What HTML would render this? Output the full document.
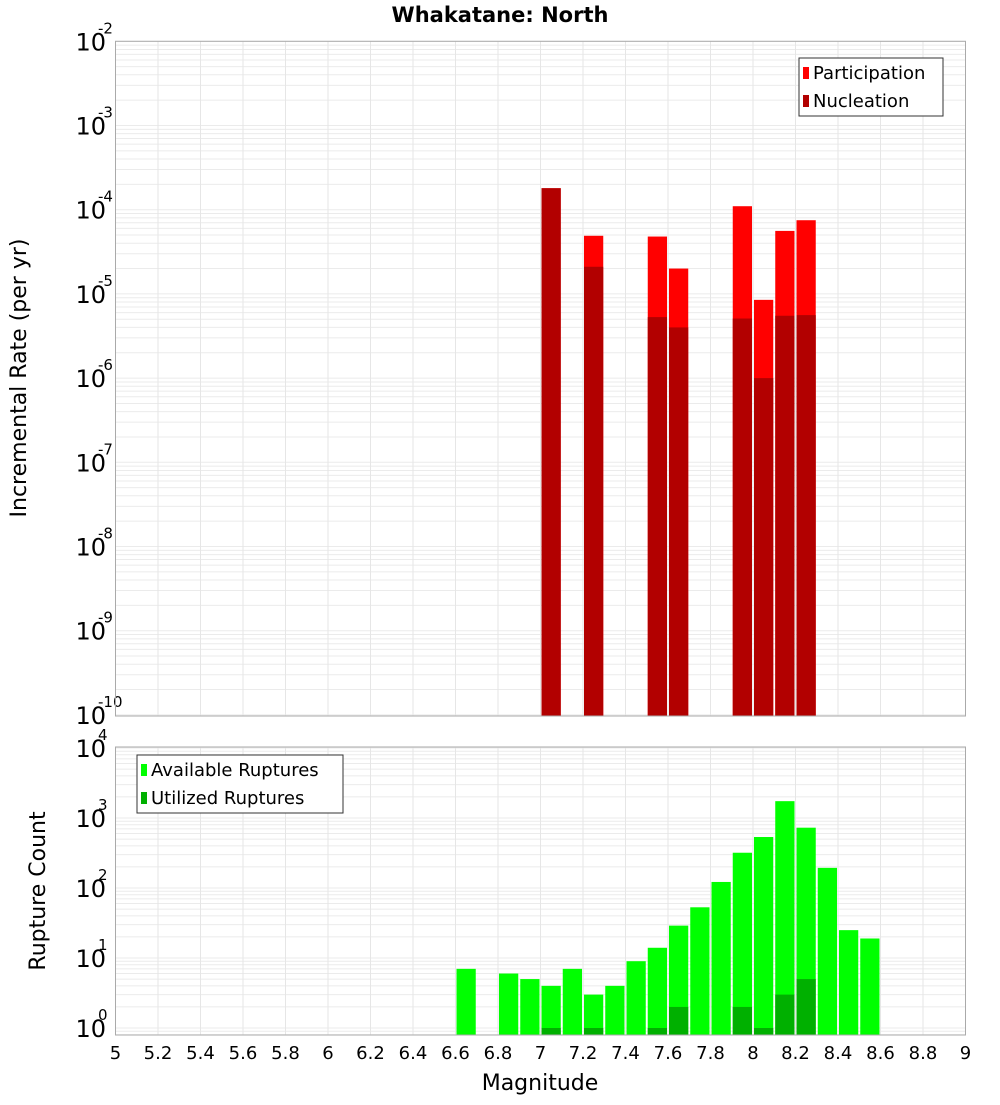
<!DOCTYPE html>
<html><head><meta charset="utf-8"><style>
body{margin:0;background:#fff;font-family:"Liberation Sans","DejaVu Sans",sans-serif}
svg text{font-family:"DejaVu Sans","Liberation Sans",sans-serif}
</style></head><body>
<svg id="c" width="1000" height="1100" xmlns="http://www.w3.org/2000/svg">
<text x="500" y="22" text-anchor="middle" font-size="21" font-weight="bold">Whakatane: North</text>
<text transform="translate(26,378) rotate(-90)" text-anchor="middle" font-size="22">Incremental Rate (per yr)</text>
<text transform="translate(45,891) rotate(-90)" text-anchor="middle" font-size="22">Rupture Count</text>
<text x="540" y="1090" text-anchor="middle" font-size="22">Magnitude</text>
<g id="top"></g><g id="bot"></g>
</svg>
<script>
const rateMags=[7.0,7.2,7.5,7.6,7.9,8.0,8.1,8.2];
const participation=[1.8e-4,4.9e-5,4.8e-5,2.0e-5,1.1e-4,8.5e-6,5.6e-5,7.5e-5];
const nucleation=[1.8e-4,2.1e-5,5.3e-6,4.0e-6,5.1e-6,1.0e-6,5.5e-6,5.6e-6];
const countMags=[6.6,6.8,6.9,7.0,7.1,7.2,7.3,7.4,7.5,7.6,7.7,7.8,7.9,8.0,8.1,8.2,8.3,8.4,8.5];
const available=[7,6,5,4,7,3,4,9,14,29,53,122,319,535,1740,727,194,25,19];
const utilMags=[7.0,7.2,7.5,7.6,7.9,8.0,8.1,8.2];
const utilized=[1,1,1,2,2,1,3,5];
const xTicks=[5,5.2,5.4,5.6,5.8,6,6.2,6.4,6.6,6.8,7,7.2,7.4,7.6,7.8,8,8.2,8.4,8.6,8.8,9];
const topExps=[-2,-3,-4,-5,-6,-7,-8,-9,-10];
const botExps=[0,1,2,3,4];

const NS="http://www.w3.org/2000/svg";
const X0=115.5,X1=965.5;
const x=m=>X0+(m-5)/4*(X1-X0);
const yTop=v=>41.3+(-2-Math.log10(v))*84.2;
const yBot=v=>1028-70*Math.log10(v);
function mk(p,tag,at){const e=document.createElementNS(NS,tag);for(const k in at)e.setAttribute(k,at[k]);p.appendChild(e);return e;}

function panel(g,top,bottom,yf,exps,name){
  const bg=mk(g,'rect',{x:X0,y:top,width:X1-X0,height:bottom-top,fill:'#fff'});
  
  
  const lo=Math.min(...exps),hi=Math.max(...exps);
  for(let e=lo-1;e<=hi;e++)for(let k=1;k<10;k++){
    const yy=yf(k*Math.pow(10,e)); if(yy<top||yy>bottom)continue;
    const l=mk(g,'line',{x1:X0,x2:X1,y1:yy,y2:yy,stroke:'#ebebeb','stroke-width':1});
    
    
  }
  xTicks.forEach(t=>{const l=mk(g,'line',{x1:x(t),x2:x(t),y1:top,y2:bottom,stroke:'#e6e6e6','stroke-width':1});
    
    });
  exps.forEach(e=>{const yy=yf(Math.pow(10,e));
    const t=mk(g,'text',{x:106,y:yy+9,'text-anchor':'end','font-size':24});
    
    
    t.textContent='10';
    const s=mk(g,'text',{x:98,y:yy-8,'font-size':15});
    
    
    s.textContent=String(e);});
}
function frame(g,top,bottom,name){const r=mk(g,'rect',{x:X0,y:top,width:X1-X0,height:bottom-top,fill:'none',stroke:'#aaa','stroke-width':1});
  
  }
function bar(g,m,v,yf,base,fill,name){
  const x0=x(m)+1,x1=x(m+0.1)-1,yy=yf(v);
  const r=mk(g,'rect',{x:x0,y:yy,width:x1-x0,height:base-yy,fill:fill});
  
  
}
function legend(g,lx,ly,w,items,name){
  const r=mk(g,'rect',{x:lx,y:ly,width:w,height:58,fill:'#fff',stroke:'#333','stroke-width':1});
  
  
  items.forEach((it,i)=>{
    const s=mk(g,'rect',{x:lx+4,y:ly+9+i*28,width:6,height:12,fill:it[1]});
    
    
    const t=mk(g,'text',{x:lx+14,y:ly+21+i*28,'font-size':18});
    
    
    t.textContent=it[0];
  });
}
const gt=document.getElementById('top'),gb=document.getElementById('bot');
panel(gt,41.3,716,yTop,topExps,'rate');
rateMags.forEach((m,i)=>bar(gt,m,participation[i],yTop,716,'#ff0000','participation-bar'));
rateMags.forEach((m,i)=>bar(gt,m,nucleation[i],yTop,716,'#b20000','nucleation-bar'));
frame(gt,41.3,716,'rate');
legend(gt,799,58,144,[['Participation','#ff0000'],['Nucleation','#b20000']],'rate-legend');

panel(gb,747,1035,yBot,botExps,'count');
countMags.forEach((m,i)=>bar(gb,m,available[i],yBot,1035,'#00ff00','available-bar'));
utilMags.forEach((m,i)=>bar(gb,m,utilized[i],yBot,1035,'#00b000','utilized-bar'));
frame(gb,747,1035,'count');
legend(gb,137,755,206,[['Available Ruptures','#00ff00'],['Utilized Ruptures','#00b000']],'count-legend');
xTicks.forEach(t=>{const e=mk(gb,'text',{x:x(t),y:1059,'text-anchor':'middle','font-size':18});
  
  
  e.textContent=String(t);});
</script>
</body></html>
